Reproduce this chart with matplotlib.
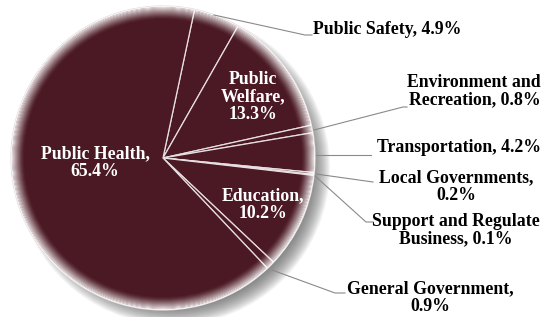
import numpy as np
import matplotlib.pyplot as plt
from matplotlib.patches import Circle, Wedge

# Spending shares, clockwise from the slice just right of the top
labels = ["Public Safety, 4.9%", "Public\nWelfare,\n13.3%", "Environment and\nRecreation, 0.8%",
          "Transportation, 4.2%", "Local Governments,\n0.2%", "Support and Regulate\nBusiness, 0.1%",
          "Education,\n10.2%", "General Government,\n0.9%", "Public Health,\n65.4%"]
shares = [4.9, 13.3, 0.8, 4.2, 0.2, 0.1, 10.2, 0.9, 65.4]

maroon = "#4b1923"
W, H = 542, 317
cx, cy, R = 163, 159, 152

plt.rcParams['font.family'] = ['Liberation Serif', 'DejaVu Serif']

fig = plt.figure(figsize=(W / 100, H / 100), dpi=100)
ax = fig.add_axes([0, 0, 1, 1])

# soft drop shadow, offset to lower right
for i in range(20):
    ax.add_patch(Circle((cx + 10, cy - 10), R + 5 - i, color="#5a5a5a",
                        alpha=0.06, lw=0, zorder=0))

wedges, _ = ax.pie(shares, center=(cx, cy), radius=R, startangle=78, counterclock=False,
                   colors=[maroon] * len(shares),
                   wedgeprops=dict(edgecolor="#e8dfe3", linewidth=0.9), frame=True)
for w in wedges:
    w.set_zorder(2)

# light glow on the rim
n = 13
for i in range(n):
    ax.add_patch(Wedge((cx, cy), R - i, 0, 360, width=1.2, color="white",
                       alpha=0.9 * (1 - i / n) ** 1.5, lw=0, zorder=3))

bold = dict(fontweight="bold", fontsize=12.8, linespacing=1.05)

# labels inside the pie
inside = {1: (253, 97), 6: (263, 205), 8: (95, 163)}
for i, (x, y) in inside.items():
    ax.text(x, H - y, labels[i], color="white", ha="center", va="center", zorder=5, **bold)

# labels outside with leader lines: (text x, text y, ha, leader points)
outside = {
    0: (313, 29, "left", [(214, 15), (305, 35), (312, 35)]),
    2: (541, 91, "right", [(314, 130), (403, 107), (407, 107)]),
    3: (541, 148, "right", [(316, 155), (371, 155)]),
    4: (456, 187, "center", [(316, 174), (373, 182)]),
    5: (456, 230, "center", [(315, 176), (366, 222), (373, 222)]),
    7: (430, 298, "center", [(272, 270), (335, 293), (345, 293)]),
}
for i, (x, y, ha, pts) in outside.items():
    ax.text(x, H - y, labels[i], color="black", ha=ha, va="center",
            multialignment="center" if ha != "right" else "right", zorder=5, **bold)
    px = [p[0] for p in pts]
    py = [H - p[1] for p in pts]
    ax.plot(px, py, color="#8a8a8a", lw=0.8, zorder=4)

ax.set_xlim(0, W)
ax.set_ylim(0, H)
ax.set_aspect("auto")
ax.axis("off")

fig.savefig("out.png", dpi=100, facecolor="white")
